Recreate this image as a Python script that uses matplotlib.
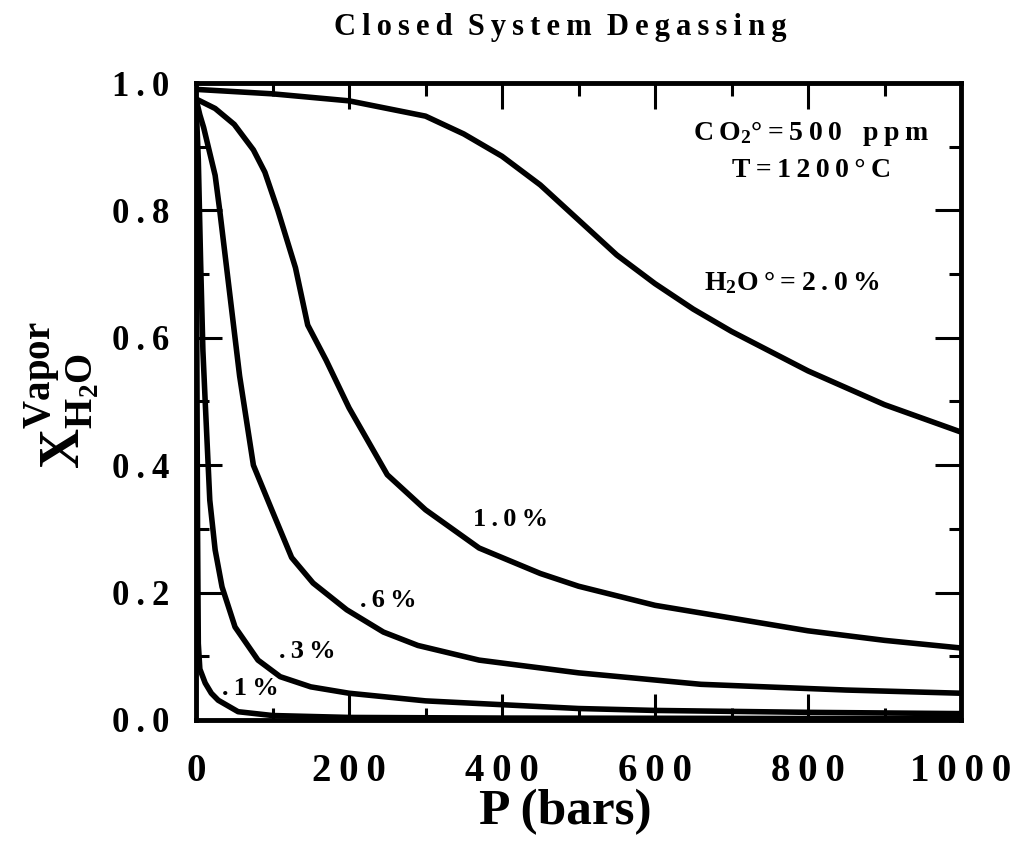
import matplotlib
matplotlib.use("Agg")
import matplotlib.pyplot as plt
from matplotlib.ticker import MultipleLocator, FuncFormatter

plt.rcParams['font.family'] = ['Liberation Serif', 'DejaVu Serif']
plt.rcParams['mathtext.fontset'] = 'custom'
plt.rcParams['mathtext.rm'] = 'Liberation Serif'
plt.rcParams['mathtext.bf'] = 'Liberation Serif:bold'
plt.rcParams['mathtext.it'] = 'Liberation Serif:italic'

# ---- data (P in bars, X_H2O vapor) ----
p_20 = [0, 100, 200, 300, 350, 400, 450, 500, 550, 600, 650, 700, 800, 900, 1000]
x_20 = [0.99, 0.983, 0.972, 0.948, 0.92, 0.885, 0.84, 0.785, 0.73, 0.685, 0.645, 0.61, 0.548, 0.495, 0.452]

p_10 = [0, 25, 50, 75, 90, 107, 130, 146, 170, 200, 250, 300, 370, 450, 500, 600, 700, 800, 900, 1000]
x_10 = [0.975, 0.96, 0.935, 0.895, 0.86, 0.80, 0.71, 0.62, 0.565, 0.49, 0.385, 0.33, 0.27, 0.23, 0.21, 0.18, 0.16, 0.14, 0.125, 0.113]

p_06 = [0, 5, 10, 25, 31, 42, 57, 75, 99, 125, 153, 197, 245, 290, 370, 500, 660, 850, 1000]
x_06 = [0.975, 0.95, 0.93, 0.855, 0.80, 0.69, 0.54, 0.40, 0.33, 0.255, 0.215, 0.173, 0.138, 0.117, 0.094, 0.074, 0.056, 0.047, 0.042]

p_03 = [0, 3, 6, 9, 12, 18, 25, 34, 51, 81, 110, 150, 200, 300, 400, 500, 600, 800, 1000]
x_03 = [0.97, 0.88, 0.72, 0.58, 0.50, 0.345, 0.267, 0.209, 0.146, 0.094, 0.068, 0.052, 0.042, 0.03, 0.024, 0.018, 0.015, 0.012, 0.01]

p_01 = [0, 1, 2, 3, 5, 12, 20, 29, 55, 100, 200, 400, 1000]
x_01 = [0.97, 0.6, 0.3, 0.12, 0.08, 0.058, 0.042, 0.031, 0.013, 0.007, 0.004, 0.003, 0.002]

x_ticks = [0, 200, 400, 600, 800, 1000]
y_ticks = [0.0, 0.2, 0.4, 0.6, 0.8, 1.0]

TS = '\u2009'  # thin space used as letter spacing


def spaced(s, sep=TS):
    return sep.join(s)


fig = plt.figure(figsize=(10.13, 8.41), dpi=100)
ax = fig.add_axes([0.1935, 0.1439, 0.7552, 0.7574])

for p, x in [(p_20, x_20), (p_10, x_10), (p_06, x_06), (p_03, x_03), (p_01, x_01)]:
    ax.plot(p, x, color='black', lw=4.0, solid_joinstyle='round', solid_capstyle='round')

ax.set_xlim(0, 1000)
ax.set_ylim(0, 1.0)
ax.set_xticks(x_ticks)
ax.set_yticks(y_ticks)
ax.xaxis.set_minor_locator(MultipleLocator(100))
ax.yaxis.set_minor_locator(MultipleLocator(0.1))
ax.xaxis.set_major_formatter(FuncFormatter(lambda v, pos: spaced('%d' % round(v))))
ax.yaxis.set_major_formatter(FuncFormatter(lambda v, pos: spaced('%.1f' % v)))
ax.tick_params(which='both', direction='in', top=True, right=True, width=2.2, color='black')
ax.tick_params(which='major', length=19)
ax.tick_params(which='minor', length=9)
ax.tick_params(axis='x', which='major', pad=24, labelsize=28)
ax.tick_params(axis='y', which='major', pad=19, labelsize=25)
for lab in ax.get_xticklabels() + ax.get_yticklabels():
    lab.set_fontweight('bold')
for s in ax.spines.values():
    s.set_linewidth(3.5)

fig.text(565 / 1013, 1 - 812 / 841, 'P (bars)', ha='center', va='center',
         fontsize=37, fontweight='bold')
fig.text(560 / 1013, 1 - 28 / 841, '\u2002'.join(spaced(w) for w in ['Closed', 'System', 'Degassing']),
         ha='center', va='center', fontsize=22, fontweight='bold')
fig.text(62 / 1013, 1 - 395 / 841,
         r'$\mathbf{X}^{\mathbf{Vapor}}_{\mathbf{H}_{\mathbf{2}}\mathbf{O}}$',
         rotation=90, ha='center', va='center', fontsize=40)

ax.text(804, 0.921, spaced('CO') + r'$_{\mathbf{2}}$' + spaced('°=500') + '   ' + spaced('ppm'),
        ha='center', va='center', fontsize=20, fontweight='bold')
ax.text(804, 0.863, spaced('T=1200°C'), ha='center', va='center', fontsize=20, fontweight='bold')
ax.text(779, 0.686, spaced('H') + r'$_{\mathbf{2}}$' + spaced('O°=2.0%'),
        ha='center', va='center', fontsize=20, fontweight='bold')
ax.text(411, 0.314, spaced('1.0%'), ha='center', va='center', fontsize=19, fontweight='bold')
ax.text(252, 0.188, spaced('.6%'), ha='center', va='center', fontsize=19, fontweight='bold')
ax.text(146, 0.107, spaced('.3%'), ha='center', va='center', fontsize=19, fontweight='bold')
ax.text(71, 0.049, spaced('.1%'), ha='center', va='center', fontsize=19, fontweight='bold')

fig.savefig('out.png', dpi=100, facecolor='white')
